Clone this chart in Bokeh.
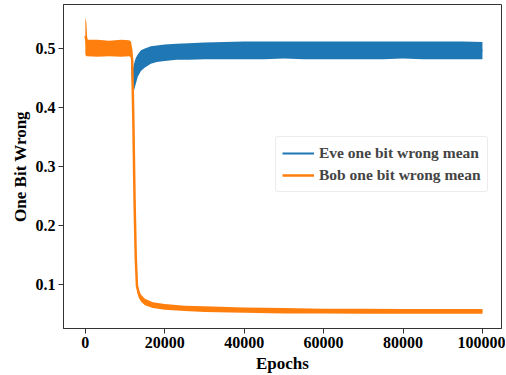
from bokeh.plotting import figure
from bokeh.models import FixedTicker, Range1d, Legend, LegendItem
from bokeh.embed import file_html
from bokeh.resources import INLINE

# ---- data ----
eve_epochs = [11800, 12000, 12300, 12700, 13200, 14000, 15000, 16500, 18000, 20000,
              23000, 26000, 30000, 35000, 40000, 45000, 50000, 55000, 60000, 65000,
              70000, 75000, 80000, 85000, 90000, 95000, 100000]
eve_low = [0.45, 0.42, 0.43, 0.44, 0.452, 0.462, 0.468, 0.474, 0.477, 0.479,
           0.481, 0.481, 0.482, 0.482, 0.482, 0.482, 0.483, 0.482, 0.482, 0.482,
           0.482, 0.482, 0.483, 0.482, 0.482, 0.482, 0.482]
eve_high = [0.49, 0.465, 0.475, 0.484, 0.49, 0.497, 0.5, 0.504, 0.505, 0.507,
            0.508, 0.509, 0.51, 0.511, 0.512, 0.512, 0.512, 0.512, 0.512, 0.512,
            0.512, 0.512, 0.512, 0.512, 0.512, 0.512, 0.511]

bob_epochs = [0, 250, 500, 3000, 6000, 9000, 11000, 11500, 11800, 12100, 12400,
              12700, 13000, 13500, 14000, 15000, 17000, 20000, 25000, 30000, 40000,
              50000, 60000, 70000, 80000, 90000, 100000]
bob_low = [0.49, 0.487, 0.487, 0.486, 0.487, 0.486, 0.487, 0.485, 0.46, 0.35, 0.22,
           0.13, 0.09, 0.077, 0.071, 0.065, 0.060, 0.057, 0.055, 0.0535, 0.052,
           0.051, 0.051, 0.0505, 0.0505, 0.0505, 0.0505]
bob_high = [0.552, 0.545, 0.515, 0.515, 0.513, 0.515, 0.514, 0.512, 0.50, 0.40, 0.26,
            0.16, 0.105, 0.09, 0.083, 0.076, 0.070, 0.067, 0.064, 0.063, 0.061,
            0.060, 0.059, 0.059, 0.0585, 0.0585, 0.0585]

x_ticks = [0, 20000, 40000, 60000, 80000, 100000]
y_ticks = [0.1, 0.2, 0.3, 0.4, 0.5]

BLUE = "#1f77b4"
ORANGE = "#ff7f0e"
FONT = "Liberation Serif"

p = figure(frame_width=438, frame_height=324, output_backend="svg", toolbar_location=None,
           x_range=Range1d(-5500, 104800), y_range=Range1d(0.0254, 0.5746),
           min_border_left=63, min_border_right=4, min_border_top=4, min_border_bottom=40)

eve_mid = [(a + b) / 2 for a, b in zip(eve_low, eve_high)]
bob_mid = [(a + b) / 2 for a, b in zip(bob_low, bob_high)]

p.varea(x=eve_epochs, y1=eve_low, y2=eve_high, fill_color=BLUE)
r_eve = p.line(eve_epochs, eve_mid, line_color=BLUE, line_width=2)
p.varea(x=bob_epochs, y1=bob_low, y2=bob_high, fill_color=ORANGE)
r_bob = p.line(bob_epochs, bob_mid, line_color=ORANGE, line_width=2.5)

p.xgrid.visible = False
p.ygrid.visible = False
p.outline_line_color = "#333333"
p.outline_line_width = 1

p.xaxis.ticker = FixedTicker(ticks=x_ticks)
p.yaxis.ticker = FixedTicker(ticks=y_ticks)
p.xaxis.formatter.use_scientific = False
for ax in (p.xaxis[0], p.yaxis[0]):
    ax.axis_line_color = "#333333"
    ax.major_tick_line_color = "#333333"
    ax.major_tick_in = 0
    ax.major_tick_out = 5
    ax.minor_tick_line_color = None
    ax.major_label_text_font = FONT
    ax.major_label_text_font_style = "bold"
    ax.major_label_text_font_size = "16px"
    ax.major_label_text_color = "black"
    ax.axis_label_text_font = FONT
    ax.axis_label_text_font_style = "bold"
    ax.axis_label_text_font_size = "17px"
    ax.axis_label_text_color = "black"
    ax.major_label_standoff = 3
    ax.axis_label_standoff = 3

p.xaxis.axis_label = "Epochs"
p.yaxis.axis_label = "One Bit Wrong"

legend = Legend(items=[LegendItem(label="Eve one bit wrong mean", renderers=[r_eve]),
                       LegendItem(label="Bob one bit wrong mean", renderers=[r_bob])],
                location=(212, 136))
legend.label_text_font = FONT
legend.label_text_font_style = "bold"
legend.label_text_font_size = "15.5px"
legend.label_height = 20
legend.glyph_width = 32
legend.glyph_height = 20
legend.label_standoff = 5
legend.spacing = 2
legend.padding = 6
legend.margin = 0
legend.border_line_color = "#d9d9d9"
legend.border_radius = 3
legend.background_fill_alpha = 0.8
p.add_layout(legend)

open("out.html", "w").write(file_html(p, INLINE))
